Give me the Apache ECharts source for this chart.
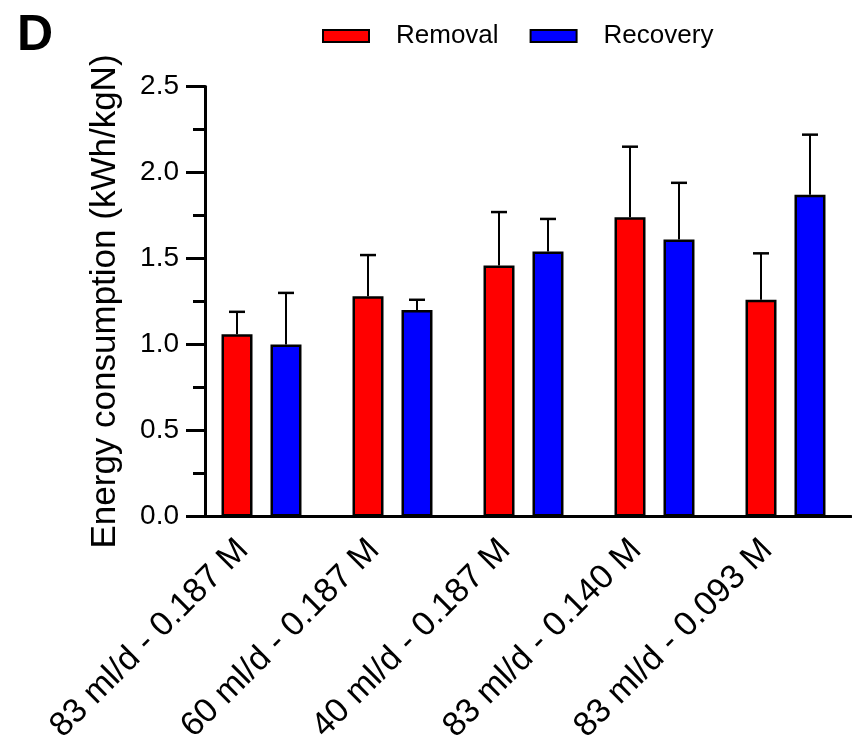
<!DOCTYPE html>
<html><head><meta charset="utf-8">
<script src="https://cdn.jsdelivr.net/npm/echarts@6/dist/echarts.min.js"></script>
<style>html,body{margin:0;padding:0;background:#fff}#c{width:852px;height:747px}</style>
</head><body><div id="c"></div>
<script>
const categories = ['83 ml/d - 0.187 M','60 ml/d - 0.187 M','40 ml/d - 0.187 M','83 ml/d - 0.140 M','83 ml/d - 0.093 M'];
const removal = [1.06, 1.28, 1.46, 1.74, 1.26];
const removalSD = [0.13, 0.24, 0.31, 0.41, 0.27];
const recovery = [1.00, 1.20, 1.54, 1.61, 1.87];
const recoverySD = [0.30, 0.06, 0.19, 0.33, 0.35];
const yTicks = [0, 0.5, 1.0, 1.5, 2.0, 2.5];

const FONT = '"Liberation Sans", Arial, sans-serif';
const chart = echarts.init(document.getElementById('c'), null, {renderer:'canvas'});

function errSeries(vals, sds, off){
  return {
    type:'custom', z:5, silent:true,
    data: vals.map((v,i)=>[i, v, sds[i]]),
    renderItem(params, api){
      const i = api.value(0), v = api.value(1), s = api.value(2);
      const p0 = api.coord([i, v]);
      const p1 = api.coord([i, v + s]);
      const x = p0[0] + off;
      return {type:'group', children:[
        {type:'line', shape:{x1:x, y1:p0[1], x2:x, y2:p1[1]}, style:{stroke:'#000', lineWidth:2}},
        {type:'line', shape:{x1:x-8, y1:p1[1], x2:x+8, y2:p1[1]}, style:{stroke:'#000', lineWidth:2.5}}
      ]};
    }
  };
}

chart.setOption({
  animation:false,
  textStyle:{fontFamily:FONT},
  graphic:[{type:'text', left:17, top:11, style:{text:'D', font:'bold 50px '+FONT, fill:'#000'}}],
  legend:{
    data:['Removal','Recovery'], left:317, top:18, itemWidth:46, itemHeight:12, itemGap:31, icon:'rect',
    textStyle:{fontSize:26, color:'#000', fontFamily:FONT, padding:[0,0,0,22]}
  },
  grid:{left:196, right:1, top:86.5, bottom:230.5},
  xAxis:{
    type:'category', data:categories,
    axisLine:{lineStyle:{color:'#000', width:3}},
    axisTick:{alignWithLabel:true, length:16, lineStyle:{color:'#000', width:3}},
    axisLabel:{rotate:45, fontSize:34, color:'#000', margin:10, fontFamily:FONT, interval:0, padding:[0,26,0,0]}
  },
  yAxis:{
    type:'value', min:yTicks[0], max:yTicks[yTicks.length-1], interval:0.5, offset:-9,
    name:'Energy consumption (kWh/kgN)', nameLocation:'middle', nameGap:82,
    nameTextStyle:{fontSize:35, color:'#000', fontFamily:FONT},
    axisLine:{show:true, lineStyle:{color:'#000', width:3}},
    axisTick:{show:true, length:19, lineStyle:{color:'#000', width:3}},
    minorTick:{show:true, splitNumber:2, length:12, lineStyle:{color:'#000', width:3}},
    splitLine:{show:false},
    axisLabel:{fontSize:28, color:'#000', margin:26, fontFamily:FONT, formatter:v=>v.toFixed(1)}
  },
  series:[
    {name:'Removal', type:'bar', data:removal, barWidth:31, barGap:'58%',
     itemStyle:{color:'#ff0000', borderColor:'#000', borderWidth:2.5}},
    {name:'Recovery', type:'bar', data:recovery, barWidth:31,
     itemStyle:{color:'#0000ff', borderColor:'#000', borderWidth:2.5}},
    errSeries(removal, removalSD, -24.5),
    errSeries(recovery, recoverySD, 24.5)
  ]
});
</script></body></html>
